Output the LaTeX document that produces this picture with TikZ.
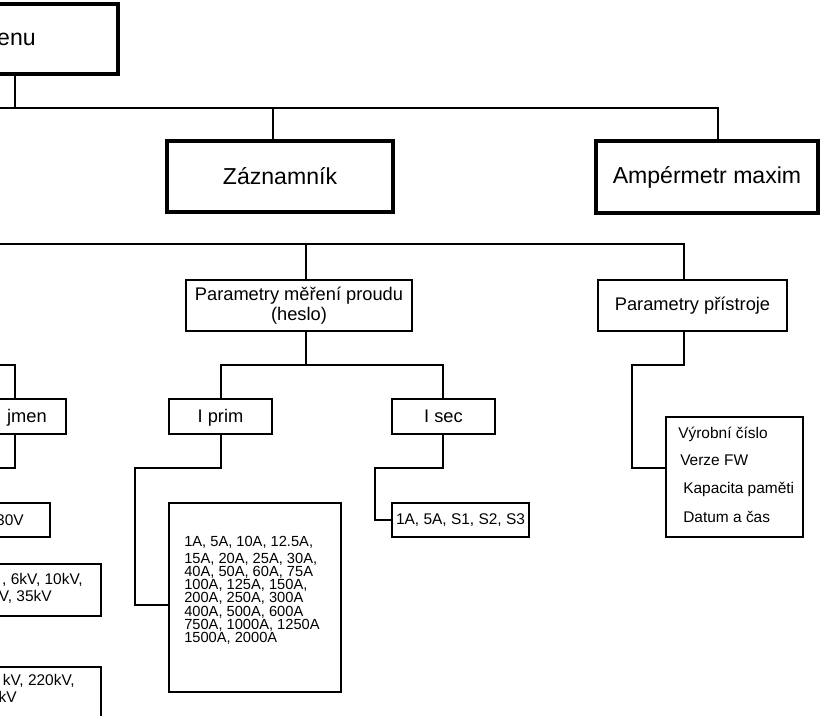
\documentclass[tikz,border=0pt]{standalone}
\usepackage{fontspec}
\setmainfont{Liberation Sans}
\newcommand{\fbig}{\fontsize{17.3}{20}\selectfont}
\newcommand{\fmed}{\fontsize{13.7}{14.5}\selectfont}
\newcommand{\fsml}{\fontsize{11.6}{13.5}\selectfont}
\newcommand{\fval}{\fontsize{11}{9.9}\selectfont}
\begin{document}
\begin{tikzpicture}[x=0.75pt,y=-0.75pt,
  thickbox/.style={draw,line width=3pt,inner sep=0pt,font=\fbig},
  thinbox/.style={draw,line width=0.9pt,inner sep=0pt,font=\fmed},
  valbox/.style={draw,line width=0.9pt,inner sep=0pt,font=\fsml},
  conn/.style={line width=0.9pt},
  txt/.style={inner sep=0pt}]
\useasboundingbox (0,0) rectangle (820,716);
\clip (0,0) rectangle (820,716);
\fill[white] (0,0) rectangle (820,716);

% level 1 / 2 boxes
\node[thickbox,minimum width=163.5pt,minimum height=52.5pt] (menu) at (9,39) {};
\node[txt,font=\fbig,anchor=base east] (menutxt) at (36,46) {enu};
\node[thickbox,minimum width=169.5pt,minimum height=53.25pt] (zaz) at (280,176.5) {Záznamník};
\node[thickbox,minimum width=166.5pt,minimum height=54pt] (amp) at (707,177) {Ampérmetr maxim};

% level 3
\node[thinbox,minimum width=169.5pt,minimum height=38.25pt,align=center] (pmp) at (299,305.5) {Parametry měření proudu\\(heslo)};
\node[thinbox,minimum width=141.75pt,minimum height=38.25pt] (ppr) at (692.5,305.5) {Parametry přístroje};

% level 4
\node[thinbox,minimum width=94.5pt,minimum height=26.25pt] (jmen) at (3,416.5) {};
\node[txt,font=\fmed,anchor=base east] (jmentxt) at (47,422) {jmen};
\node[thinbox,minimum width=77.25pt,minimum height=26.25pt] (iprim) at (220.5,416.5) {};
\node[txt,font=\fmed,anchor=base] (iprimtxt) at (iprim.center |- 0,422) {I prim};
\node[thinbox,minimum width=77.25pt,minimum height=26.25pt] (isec) at (443.5,416.5) {};
\node[txt,font=\fmed,anchor=base] (isectxt) at (isec.center |- 0,422) {I sec};

% value boxes
\node[valbox,minimum width=129pt,minimum height=141.75pt] (ivals) at (255,597.5) {};
\node[txt,font=\fval,align=left,anchor=north west] (ivtxt) at (184,535.5)
  {1A, 5A, 10A, 12.5A,\\[3pt]
   15A, 20A, 25A, 30A,\\
   40A, 50A, 60A, 75A\\
   100A, 125A, 150A,\\
   200A, 250A, 300A\\
   400A, 500A, 600A\\
   750A, 1000A, 1250A\\
   1500A, 2000A};

\node[valbox,minimum width=102.75pt,minimum height=25.5pt] (svals) at (460.5,520) {1A, 5A, S1, S2, S3};

\node[valbox,minimum width=102.75pt,minimum height=90pt] (pvals) at (734.5,477) {};
\node[txt,font=\fsml,anchor=base west] (pv1) at (678,438) {Výrobní číslo};
\node[txt,font=\fsml,anchor=base west] (pv2) at (680,465) {Verze FW};
\node[txt,font=\fsml,anchor=base west] (pv3) at (683,493) {Kapacita paměti};
\node[txt,font=\fsml,anchor=base west] (pv4) at (683,522) {Datum a čas};

% left clipped value boxes
\node[valbox,minimum width=82.5pt,minimum height=25.5pt] (lv1) at (-5,520) {};
\node[txt,font=\fsml,anchor=base east] (lv1t) at (24,525) {30V};
\node[valbox,minimum width=135.75pt,minimum height=39pt] (lv2) at (10.5,590) {};
\node[txt,font=\fsml,anchor=base east] (lv2a) at (83,584) {, 6kV, 10kV,};
\node[txt,font=\fsml,anchor=base east] (lv2b) at (52,601) {V, 35kV};
\node[valbox,minimum width=135.75pt,minimum height=54.75pt] (lv3) at (10.5,703.5) {};
\node[txt,font=\fsml,anchor=base east] (lv3a) at (75,685) {kV, 220kV,};
\node[txt,font=\fsml,anchor=base east] (lv3b) at (17,702) {kV};

% connectors: top bus
\coordinate (jm) at (15,108);
\coordinate (jz) at (273,108);
\coordinate (ja) at (718,108);
\coordinate (bl1) at (-10,108);
\draw[conn] (bl1) -- (ja) -- (ja |- amp.north);
\draw[conn] (jm |- menu.south) -- (jm);
\draw[conn] (jz) -- (jz |- zaz.north);

% second bus
\coordinate (bl2) at (-10,244);
\coordinate (jp) at (306,244);
\coordinate (jq) at (684,244);
\draw[conn] (bl2) -- (jq) -- (jq |- ppr.north);
\draw[conn] (jp) -- (jp |- pmp.north);

% Parametry mereni proudu children
\coordinate (k1) at (306,365);
\coordinate (kL) at (221,365);
\coordinate (kR) at (443,365);
\draw[conn] (k1 |- pmp.south) -- (k1);
\draw[conn] (kL |- iprim.north) -- (kL) -- (kR) -- (kR |- isec.north);

% I prim -> values
\coordinate (p1) at (221,468);
\coordinate (p2) at (135,468);
\coordinate (p3) at (135,605);
\draw[conn] (p1 |- iprim.south) -- (p1) -- (p2) -- (p3) -- (p3 -| ivals.west);

% I sec -> values
\coordinate (s1) at (443,468);
\coordinate (s2) at (375,468);
\draw[conn] (s1 |- isec.south) -- (s1) -- (s2) |- (svals.west);

% Parametry pristroje -> values
\coordinate (q1) at (684,365);
\coordinate (q2) at (632,365);
\coordinate (q3) at (632,468);
\draw[conn] (q1 |- ppr.south) -- (q1) -- (q2) -- (q3) -- (q3 -| pvals.west);

% left branch
\coordinate (l0) at (-10,365);
\coordinate (l1) at (15,365);
\coordinate (l2) at (15,468);
\coordinate (l3) at (-10,468);
\draw[conn] (l0) -- (l1) -- (l1 |- jmen.north);
\draw[conn] (l1 |- jmen.south) -- (l2) -- (l3);
\end{tikzpicture}
\end{document}
